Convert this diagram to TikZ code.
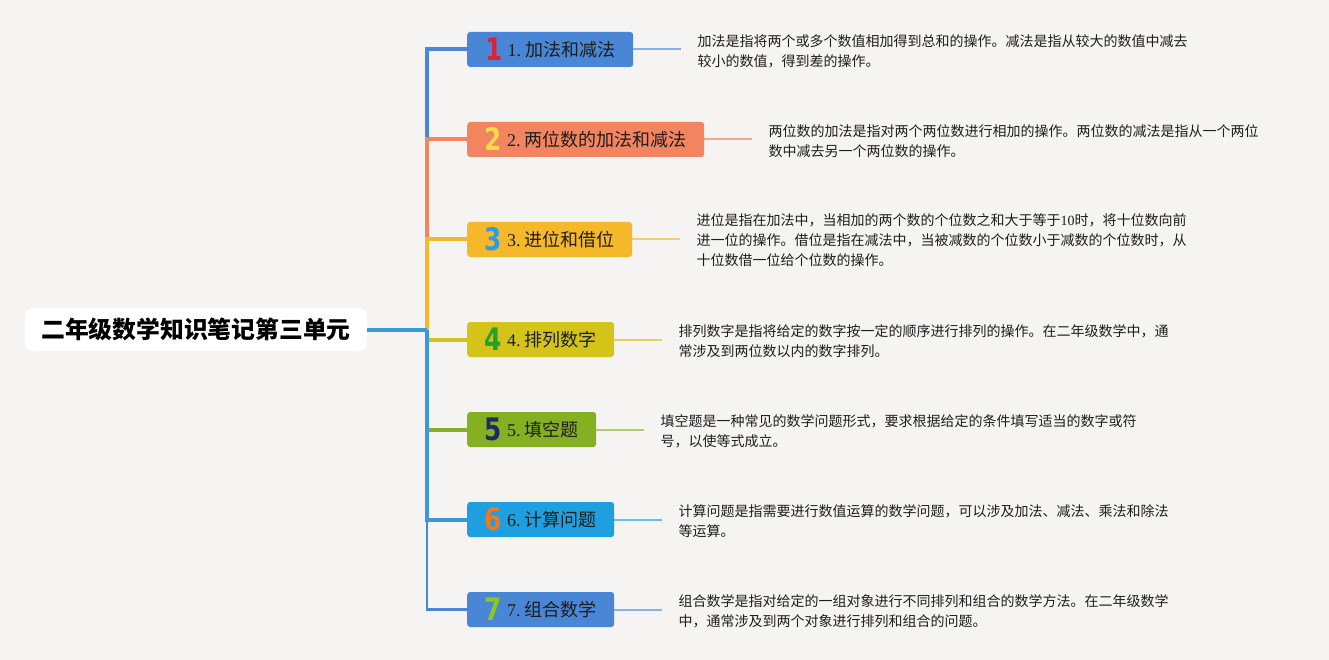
\documentclass[tikz,border=0pt]{standalone}
\usepackage{fontspec}
\setmainfont{Liberation Serif}
\newfontfamily\cjk{Noto Sans CJK SC}
\newfontfamily\iconf{DejaVu Sans}
\definecolor{bg}{HTML}{F5F4F2}
\definecolor{k1}{HTML}{4A86D6}
\definecolor{k2}{HTML}{F28560}
\definecolor{k3}{HTML}{F5B82A}
\definecolor{k4}{HTML}{D4C41A}
\definecolor{k5}{HTML}{84B022}
\definecolor{k6}{HTML}{1EA0E0}
\definecolor{k7}{HTML}{4A86D6}
\definecolor{kr}{HTML}{3A9AD9}
\definecolor{lcA}{HTML}{88B0E6}
\definecolor{lcB}{HTML}{F4A488}
\definecolor{lcC}{HTML}{F6CC66}
\definecolor{lcD}{HTML}{E0D25E}
\definecolor{lcE}{HTML}{B0CE66}
\definecolor{lcF}{HTML}{6CBEEA}
\definecolor{i1}{HTML}{D8243A}
\definecolor{i2}{HTML}{F7D84A}
\definecolor{i3}{HTML}{2A9EE0}
\definecolor{i4}{HTML}{22A030}
\definecolor{i5}{HTML}{1E2A6A}
\definecolor{i6}{HTML}{F07820}
\definecolor{i7}{HTML}{8CC820}
\definecolor{txt}{HTML}{1E1E1E}
\tikzset{
  topic/.style={anchor=west, fill=#1, rounded corners=3pt, minimum height=35pt,
    inner xsep=14pt, inner ysep=0pt, text height=16.8pt, text depth=3.2pt, text=txt},
  desc/.style={anchor=west, align=left, inner xsep=16pt, inner ysep=0pt, text=txt,
    font=\cjk\fontsize{14}{20}\selectfont},
  branch/.style={draw=#1, line width=4pt},
  leadline/.style={line width=2pt},
}
\newcommand{\ico}[2]{\raisebox{-4pt}{\scalebox{0.8}[1]{\iconf\bfseries\fontsize{31}{31}\selectfont\color{#1}#2}}\hspace{5pt}}
\newcommand{\lab}[2]{{\fontsize{18}{18}\selectfont #1.\hspace{4pt}{\cjk #2}}}
\begin{document}
\begin{tikzpicture}[x=1pt,y=1pt]
\useasboundingbox (0,0) rectangle (1329,-660);
\fill[bg] (0,0) rectangle (1329,-660);

\node[fill=white, rounded corners=8pt, minimum width=342pt, minimum height=43pt, inner sep=0pt,
  font=\cjk\bfseries\fontsize{23.8}{24}\selectfont, text=black] (r) at (196,-329.5) {二年级数学知识笔记第三单元};

\node[topic=k1, minimum width=166pt] (b1) at (467,-49.5) {\ico{i1}{1}\lab{1}{加法和减法}};
\node[topic=k2, minimum width=237pt] (b2) at (467,-139.5) {\ico{i2}{2}\lab{2}{两位数的加法和减法}};
\node[topic=k3, minimum width=165pt] (b3) at (467,-239.5) {\ico{i3}{3}\lab{3}{进位和借位}};
\node[topic=k4, minimum width=147pt] (b4) at (467,-339.5) {\ico{i4}{4}\lab{4}{排列数字}};
\node[topic=k5, minimum width=129pt] (b5) at (467,-429.5) {\ico{i5}{5}\lab{5}{填空题}};
\node[topic=k6, minimum width=147pt] (b6) at (467,-519.5) {\ico{i6}{6}\lab{6}{计算问题}};
\node[topic=k7, minimum width=147pt] (b7) at (467,-609.5) {\ico{i7}{7}\lab{7}{组合数学}};

\coordinate (j) at (427,-329.5);
\draw[branch=k1] (j) |- (b1.west);
\draw[branch=k2] (j) |- (b2.west);
\draw[branch=k3] (j) |- (b3.west);
\draw[branch=k4] (j) |- (b4.west);
\draw[branch=k5] (j) |- (b5.west);
\draw[branch=k7, line width=2.5pt] (j) |- (b7.west);
\draw[branch=kr] (r.east) -- (j);
\draw[branch=kr] (j) |- (b6.west);

\node[desc] (d1) at ([xshift=48pt,yshift=-2pt]b1.east) {加法是指将两个或多个数值相加得到总和的操作。减法是指从较大的数值中减去\\较小的数值，得到差的操作。};
\node[desc] (d2) at ([xshift=48pt,yshift=-2pt]b2.east) {两位数的加法是指对两个两位数进行相加的操作。两位数的减法是指从一个两位\\数中减去另一个两位数的操作。};
\node[desc] (d3) at ([xshift=48pt,yshift=-1pt]b3.east) {进位是指在加法中，当相加的两个数的个位数之和大于等于{\rmfamily 10}时，将十位数向前\\进一位的操作。借位是指在减法中，当被减数的个位数小于减数的个位数时，从\\十位数借一位给个位数的操作。};
\node[desc] (d4) at ([xshift=48pt,yshift=-2pt]b4.east) {排列数字是指将给定的数字按一定的顺序进行排列的操作。在二年级数学中，通\\常涉及到两位数以内的数字排列。};
\node[desc] (d5) at ([xshift=48pt,yshift=-2pt]b5.east) {填空题是一种常见的数学问题形式，要求根据给定的条件填写适当的数字或符\\号，以使等式成立。};
\node[desc] (d6) at ([xshift=48pt,yshift=-2pt]b6.east) {计算问题是指需要进行数值运算的数学问题，可以涉及加法、减法、乘法和除法\\等运算。};
\node[desc] (d7) at ([xshift=48pt,yshift=-2pt]b7.east) {组合数学是指对给定的一组对象进行不同排列和组合的数学方法。在二年级数学\\中，通常涉及到两个对象进行排列和组合的问题。};

\draw[leadline, draw=lcA] (b1.east) -- (b1.east -| d1.west);
\draw[leadline, draw=lcB] (b2.east) -- (b2.east -| d2.west);
\draw[leadline, draw=lcC] (b3.east) -- (b3.east -| d3.west);
\draw[leadline, draw=lcD] (b4.east) -- (b4.east -| d4.west);
\draw[leadline, draw=lcE] (b5.east) -- (b5.east -| d5.west);
\draw[leadline, draw=lcF] (b6.east) -- (b6.east -| d6.west);
\draw[leadline, draw=lcA] (b7.east) -- (b7.east -| d7.west);
\end{tikzpicture}
\end{document}
